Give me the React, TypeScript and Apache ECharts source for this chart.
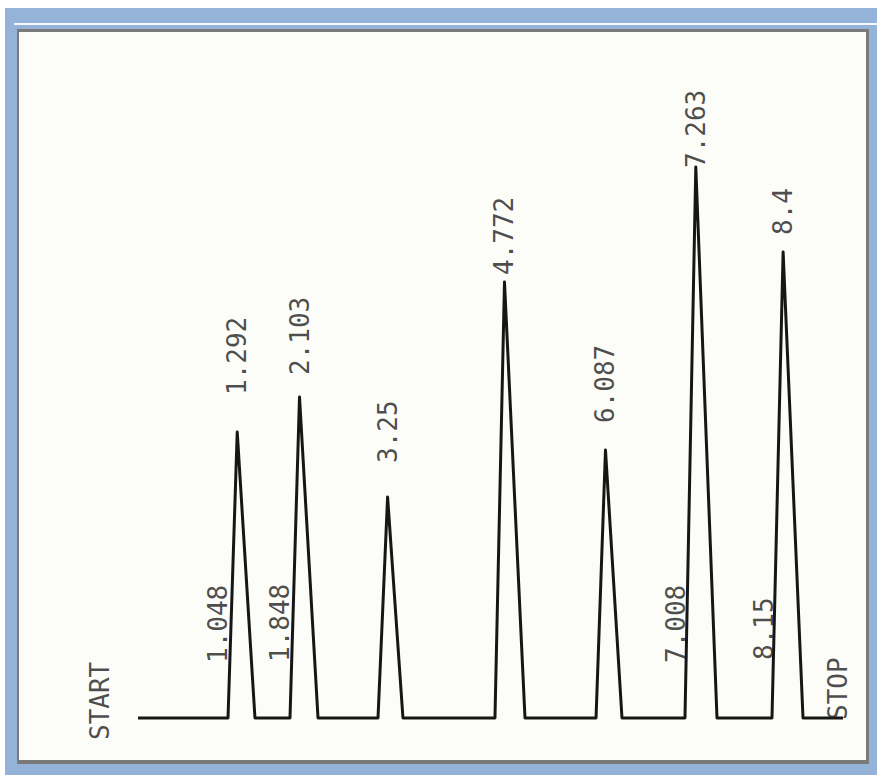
import React, { useEffect, useRef } from "react";
import * as echarts from "echarts";

// Retention times (min) of the peak apexes and their printed labels
const peakTimes = [1.292, 2.103, 3.25, 4.772, 6.087, 7.263, 8.4];
const peakLabels = ["1.292", "2.103", "3.25", "4.772", "6.087", "7.263", "8.4"];
// Peak heights (signal units above baseline)
const peakHeights = [286, 321, 221, 436, 268, 551, 466];
// Peak start / end times at the baseline
const peakStarts = [1.172, 1.979, 3.125, 4.648, 5.964, 7.122, 8.255];
const peakEnds = [1.523, 2.344, 3.45, 5.039, 6.302, 7.539, 8.659];
// Signal level where each printed apex label begins
const peakLabelLevels = [323, 343, 255, 443, 295, 550, 483];

// Event marks printed near the baseline
const eventTimes = [1.048, 1.848, 7.008, 8.15];
const eventLabels = ["1.048", "1.848", "7.008", "8.15"];
const eventLabelLevels = [55, 56, 55, 58];

// Run start / stop
const runStart = 0;
const runStop = 9.18;
const markerLabels = ["START", "STOP"];
const markerTimes = [-0.49, 9.11];
const markerLevels = [-22, -2];

export default function App() {
  const ref = useRef<HTMLDivElement>(null);
  useEffect(() => {
    if (!ref.current) return;
    const chart = echarts.init(ref.current, undefined, { renderer: "svg" });

    const trace: number[][] = [[runStart, 0]];
    peakTimes.forEach((t, i) => {
      trace.push([peakStarts[i], 0]);
      trace.push([t, peakHeights[i]]);
      trace.push([peakEnds[i], 0]);
    });
    trace.push([runStop, 0]);

    const font = "'DejaVu Sans Mono', 'Liberation Mono', monospace";
    const labelStyle = {
      show: true,
      position: [0, 0],
      rotate: 90,
      align: "left",
      verticalAlign: "middle",
      fontFamily: font,
      fontSize: 26,
      color: "#1e1e1e",
      formatter: (p: any) => p.name,
    };

    const toPts = (times: number[], levels: number[], names: string[]) =>
      times.map((t, i) => ({ name: names[i], value: [t, levels[i]] }));

    chart.setOption({
      animation: false,
      backgroundColor: "transparent",
      graphic: [
        { type: "rect", silent: true, z: -10, shape: { x: 5, y: 8, width: 872, height: 767 }, style: { fill: "#95b3d8" } },
        { type: "rect", silent: true, z: -9, shape: { x: 14, y: 23, width: 863, height: 2 }, style: { fill: "#f4f8fc" } },
        { type: "rect", silent: true, z: -8, shape: { x: 17, y: 29, width: 852, height: 735 }, style: { fill: "#7a7a7a" } },
        { type: "rect", silent: true, z: -7, shape: { x: 19, y: 32, width: 847, height: 728 }, style: { fill: "#fcfcf9" } },
      ],
      grid: { left: 99.6, right: 9.4, top: 118, bottom: 7 },
      xAxis: {
        type: "value",
        min: -0.5,
        max: 9.5,
        show: false,
      },
      yAxis: {
        type: "value",
        min: -50,
        max: 600,
        show: false,
      },
      series: [
        {
          type: "line",
          data: trace,
          showSymbol: false,
          silent: true,
          lineStyle: { color: "#161616", width: 3, join: "round" },
          z: 3,
        },
        {
          type: "scatter",
          symbolSize: 0,
          silent: true,
          data: toPts(peakTimes, peakLabelLevels, peakLabels),
          label: labelStyle,
          z: 4,
        },
        {
          type: "scatter",
          symbolSize: 0,
          silent: true,
          data: toPts(eventTimes, eventLabelLevels, eventLabels),
          label: labelStyle,
          z: 4,
        },
        {
          type: "scatter",
          symbolSize: 0,
          silent: true,
          clip: false,
          data: toPts(markerTimes, markerLevels, markerLabels),
          label: labelStyle,
          z: 4,
        },
      ],
    });
    return () => chart.dispose();
  }, []);

  return (
    <div
      ref={ref}
      style={{ position: "absolute", left: 0, top: 0, width: 877, height: 775 }}
    />
  );
}
